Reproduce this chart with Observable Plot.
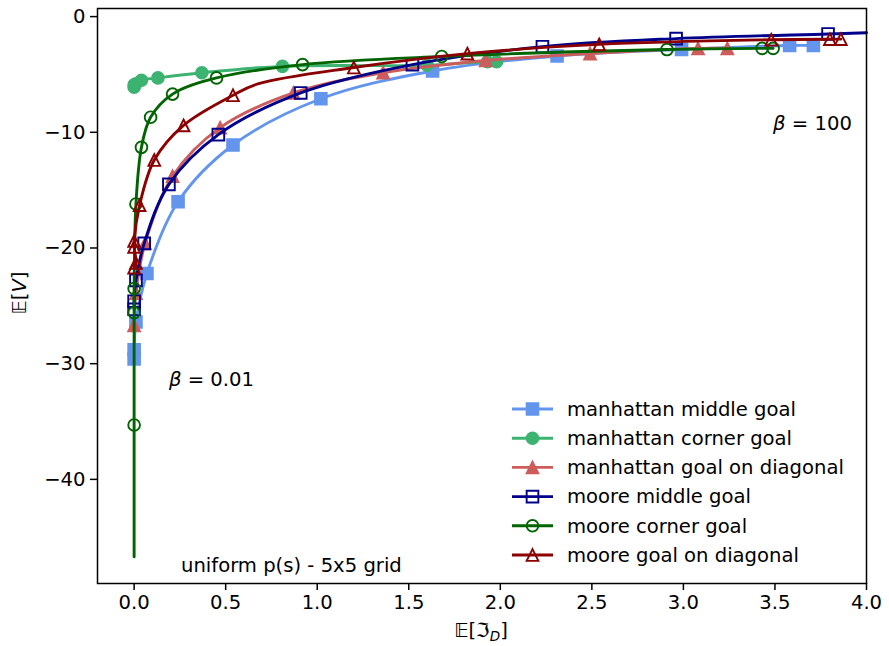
<!DOCTYPE html>
<html><head><meta charset="utf-8">
<script src="https://cdn.jsdelivr.net/npm/d3@7"></script>
<script src="https://cdn.jsdelivr.net/npm/@observablehq/plot@0.6"></script>
<style>
body{margin:0;background:#fff;}
#chart{width:889px;height:646px;}
</style></head><body><div id="chart"></div>
<script>
// ---- series meta ----
const seriesNames = ["manhattan middle goal","manhattan corner goal","manhattan goal on diagonal","moore middle goal","moore corner goal","moore goal on diagonal"];
const seriesColors = ["#6495ED","#3CB371","#CD5C5C","#00008B","#006400","#8B0000"];
const seriesShapes = ["square","circle","triangle","square","circle","triangle"];
const seriesFilled = [true,true,true,false,false,false];

// ---- marker values (x = E[I_D], y = E[V]) ----
const manMidX = [0.0, 0.0, 0.01, 0.07, 0.24, 0.54, 1.02, 1.63, 2.31, 2.99, 3.58, 3.71];
const manMidY = [-29.6, -28.8, -26.4, -22.2, -16.0, -11.1, -7.1, -4.7, -3.4, -2.85, -2.5, -2.5];
const manCorX = [0.0, 0.0, 0.01, 0.04, 0.13, 0.37, 0.81, 1.60, 1.93, 1.98];
const manCorY = [-6.1, -5.9, -5.8, -5.5, -5.3, -4.85, -4.3, -4.2, -3.9, -3.9];
const manDiaX = [0.0, 0.01, 0.06, 0.21, 0.47, 0.87, 1.36, 1.92, 2.49, 3.08, 3.24];
const manDiaY = [-26.7, -23.9, -19.6, -13.8, -9.6, -6.6, -4.85, -3.8, -3.2, -2.75, -2.75];
const mooMidX = [0.0, 0.0, 0.01, 0.055, 0.19, 0.46, 0.91, 1.52, 2.23, 2.96, 3.79];
const mooMidY = [-25.3, -24.6, -22.8, -19.6, -14.5, -10.2, -6.6, -4.15, -2.6, -1.9, -1.5];
const mooCorX = [0.0, 0.0, 0.0, 0.01, 0.04, 0.09, 0.21, 0.45, 0.92, 1.68, 2.91, 3.43, 3.49];
const mooCorY = [-35.3, -25.6, -23.5, -16.2, -11.3, -8.7, -6.7, -5.3, -4.15, -3.45, -2.85, -2.75, -2.75];
const mooDiaX = [0.0, 0.01, 0.0, 0.0, 0.03, 0.11, 0.27, 0.54, 1.2, 1.82, 2.54, 3.48, 3.80, 3.86];
const mooDiaY = [-21.7, -21.3, -19.9, -19.4, -16.3, -12.4, -9.4, -6.8, -4.4, -3.2, -2.4, -2.0, -1.95, -1.95];

// ---- line-only points (no marker drawn) ----
const mooMidLineX = [4.0];   const mooMidLineY = [-1.4];
const mooCorLineX = [0.0];   const mooCorLineY = [-46.7];
const mooDiaLineX = [0.68];  const mooDiaLineY = [-5.8];

const markerXs = [manMidX, manCorX, manDiaX, mooMidX, mooCorX, mooDiaX];
const markerYs = [manMidY, manCorY, manDiaY, mooMidY, mooCorY, mooDiaY];
const extraXs = [[], [], [], mooMidLineX, mooCorLineX, mooDiaLineX];
const extraYs = [[], [], [], mooMidLineY, mooCorLineY, mooDiaLineY];

// ---- ticks & annotations ----
const xTicks = [0.0, 0.5, 1.0, 1.5, 2.0, 2.5, 3.0, 3.5, 4.0];
const yTicks = [0, -10, -20, -30, -40];
const annotations = [
  {x: 0.19, y: -31.4, text: "β = 0.01"},
  {x: 3.49, y: -9.3, text: "β = 100"},
  {x: 0.256, y: -47.5, text: "uniform p(s) - 5x5 grid"}
];

// ---- matplotlib-like marker shapes ----
const mplSquare = {draw(ctx, size){ const r = Math.sqrt(size/Math.PI); ctx.moveTo(-r,-r); ctx.lineTo(r,-r); ctx.lineTo(r,r); ctx.lineTo(-r,r); ctx.closePath(); }};
const mplTriangle = {draw(ctx, size){ const r = Math.sqrt(size/Math.PI); ctx.moveTo(0,-r); ctx.lineTo(r,r); ctx.lineTo(-r,r); ctx.closePath(); }};
const shapeOf = s => s === "square" ? mplSquare : s === "triangle" ? mplTriangle : d3.symbolCircle;

const R = 5.85, LW = 2.9, MEW = 1.9, FS = 19.6;

const seriesMarks = [];
seriesNames.forEach((name, i) => {
  const pts = markerXs[i].map((x, j) => ({x, y: markerYs[i][j]}));
  const linePts = pts.concat(extraXs[i].map((x, j) => ({x, y: extraYs[i][j]})))
    .sort((a, b) => a.y - b.y || a.x - b.x);
  seriesMarks.push(Plot.line(linePts, {x: "x", y: "y", stroke: seriesColors[i], strokeWidth: LW, curve: "catmull-rom"}));
  seriesMarks.push(Plot.dot(pts, {x: "x", y: "y", r: R, symbol: shapeOf(seriesShapes[i]),
    fill: seriesFilled[i] ? seriesColors[i] : "none", stroke: seriesColors[i], strokeWidth: MEW}));
});

const chart = Plot.plot({
  width: 889, height: 646,
  marginLeft: 97, marginRight: 23, marginTop: 8, marginBottom: 63,
  style: {fontFamily: "'DejaVu Sans', sans-serif", fontSize: FS + "px", background: "white", color: "black", overflow: "visible"},
  x: {domain: [-0.2, 4.0]},
  y: {domain: [-49, 0.7]},
  marks: [
    Plot.axisX({ticks: xTicks, tickFormat: d3.format(".1f"), tickSize: 7, tickPadding: 5, label: null, strokeWidth: 1.5}),
    Plot.axisY({ticks: yTicks, tickFormat: d3.format("d"), tickSize: 7, tickPadding: 5, label: null, strokeWidth: 1.5}),
    ...seriesMarks,
    Plot.text(annotations, {x: "x", y: "y", text: "text", textAnchor: "start", fill: "black", fontSize: FS}),
    Plot.frame({stroke: "black", strokeWidth: 1.5})
  ]
});
document.getElementById("chart").appendChild(chart);

const svg = d3.select(chart);
// italic beta in annotations
svg.selectAll("text").each(function(){
  const t = this.textContent;
  if (t.startsWith("β")) {
    const sel = d3.select(this);
    sel.text(null);
    sel.append("tspan").attr("font-style", "italic").text("β");
    sel.append("tspan").text(t.slice(1));
  }
});

// legend
const lg = svg.append("g").attr("font-size", FS).attr("font-family", "'DejaVu Sans', sans-serif").attr("text-anchor", "start");
seriesNames.forEach((name, i) => {
  const cy = 409 + i * 29.2;
  lg.append("line").attr("x1", 512).attr("x2", 553).attr("y1", cy).attr("y2", cy)
    .attr("stroke", seriesColors[i]).attr("stroke-width", LW);
  lg.append("path").attr("transform", `translate(532.5,${cy})`)
    .attr("d", d3.symbol(shapeOf(seriesShapes[i]), Math.PI * R * R)())
    .attr("fill", seriesFilled[i] ? seriesColors[i] : "none")
    .attr("stroke", seriesColors[i]).attr("stroke-width", MEW);
  lg.append("text").attr("x", 567).attr("y", cy).attr("dy", "0.35em").attr("fill", "black").text(name);
});

// axis labels
const yl = svg.append("text").attr("transform", "translate(26,293) rotate(-90)")
  .attr("text-anchor", "middle").attr("font-size", FS).attr("fill", "black");
yl.append("tspan").text("𝔼[");
yl.append("tspan").attr("font-style", "italic").text("V");
yl.append("tspan").text("]");

const xl = svg.append("text").attr("x", 481).attr("y", 637)
  .attr("text-anchor", "middle").attr("font-size", FS).attr("fill", "black");
xl.append("tspan").text("𝔼[ℑ");
xl.append("tspan").attr("font-style", "italic").attr("font-size", 13.5).attr("dy", 4).text("D");
xl.append("tspan").attr("dy", -4).text("]");
</script></body></html>
